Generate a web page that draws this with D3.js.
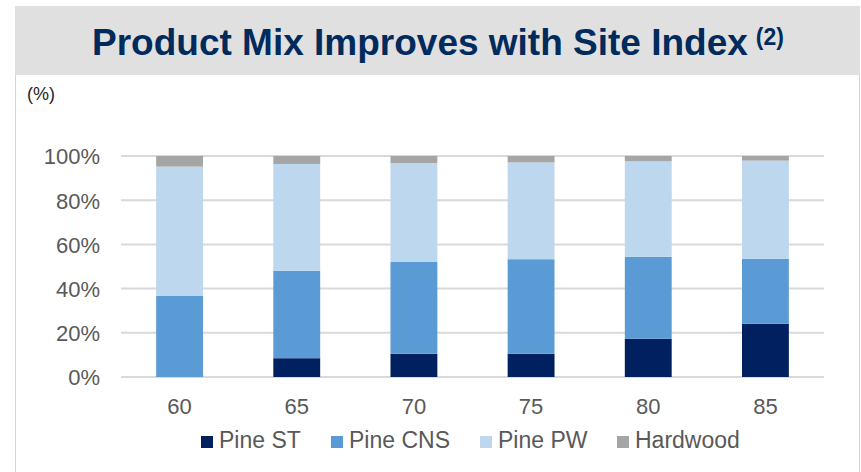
<!DOCTYPE html>
<html>
<head>
<meta charset="utf-8">
<script src="https://cdn.jsdelivr.net/npm/d3@7"></script>
<style>
  body { margin: 0; background: #fff; }
  svg { display: block; font-family: Arial, "Liberation Sans", sans-serif; }
</style>
</head>
<body>
<div id="vis"></div>
<script>
// chart data
const siteIndex = ['60', '65', '70', '75', '80', '85'];
const pineST  = [0,    8.5,  10.5, 10.5, 17.3, 24.1];
const pineCNS = [36.8, 39.5, 41.7, 42.8, 37.1, 29.4];
const pinePW  = [58.4, 48.4, 44.6, 43.8, 43.2, 44.4];
const hardwood = [4.8, 3.6,  3.2,  2.9,  2.4,  2.1];
const seriesNames = ['Pine ST', 'Pine CNS', 'Pine PW', 'Hardwood'];
const yTicks = [0, 20, 40, 60, 80, 100];

const W = 861, H = 472;
const margin = { top: 156, left: 121, right: 37, bottom: 95 };
const width = W - margin.left - margin.right;
const height = H - margin.top - margin.bottom;

let svg = d3.select('#vis')
  .append('svg')
    .attr('width', W)
    .attr('height', H);

// panel + header band
svg.append('rect')
  .attr('x', 15.5).attr('y', 6.5)
  .attr('width', 844).attr('height', 500)
  .attr('fill', '#fff')
  .attr('stroke', '#d4d4d4');

svg.append('rect')
  .attr('x', 15).attr('y', 6)
  .attr('width', 845).attr('height', 69)
  .attr('fill', '#e0e0e0');

let title = svg.append('text')
  .attr('x', 92)
  .attr('y', 55)
  .style('font-size', '37px')
  .style('font-weight', 'bold')
  .style('fill', '#002b5c');
title.append('tspan').text('Product Mix Improves with Site Index');
title.append('tspan')
  .attr('dx', 8)
  .attr('dy', -10)
  .style('font-size', '23px')
  .text('(2)');

svg.append('text')
  .attr('x', 27)
  .attr('y', 100)
  .style('font-size', '18px')
  .style('fill', '#262626')
  .text('(%)');

// stack the series
let rows = siteIndex.map((s, i) => ({
  site: s,
  'Pine ST': pineST[i],
  'Pine CNS': pineCNS[i],
  'Pine PW': pinePW[i],
  'Hardwood': hardwood[i]
}));
let stacked = d3.stack().keys(seriesNames)(rows);

let xScale = d3.scaleBand()
  .domain(siteIndex)
  .range([margin.left, margin.left + width])
  .paddingInner(0.6)
  .paddingOuter(0.3);

let yScale = d3.scaleLinear()
  .domain([0, 100])
  .range([margin.top + height, margin.top]);

const color = d3.scaleOrdinal()
  .domain(seriesNames)
  .range(['#002060', '#5b9bd5', '#bdd7ee', '#a5a5a5']);

// gridlines
svg.append('g')
  .selectAll('line')
  .data(yTicks)
  .enter().append('line')
    .attr('x1', margin.left)
    .attr('x2', margin.left + width)
    .attr('y1', d => yScale(d))
    .attr('y2', d => yScale(d))
    .attr('stroke', '#d9d9d9')
    .attr('stroke-width', 2);

// y axis labels
let yAxis = svg.append('g')
  .attr('transform', `translate(${margin.left - 21},0)`)
  .call(d3.axisLeft(yScale).tickValues(yTicks).tickFormat(d => d + '%').tickSize(0).tickPadding(0));
yAxis.select('.domain').remove();
yAxis.selectAll('text')
  .style('font-size', '22px')
  .style('font-family', 'Arial, "Liberation Sans", sans-serif')
  .style('fill', '#595959')
  .attr('dy', '0.36em');

// x axis labels
let xAxis = svg.append('g')
  .attr('transform', `translate(0,${margin.top + height})`)
  .call(d3.axisBottom(xScale).tickSize(0).tickPadding(0));
xAxis.select('.domain').remove();
xAxis.selectAll('text')
  .attr('dy', 0)
  .attr('y', 37)
  .style('font-size', '22px')
  .style('font-family', 'Arial, "Liberation Sans", sans-serif')
  .style('fill', '#595959');

// bars
svg.append('g')
  .selectAll('g')
  .data(stacked)
  .enter().append('g')
    .attr('fill', d => color(d.key))
  .selectAll('rect')
  .data(d => d)
  .enter().append('rect')
    .attr('x', d => xScale(d.data.site))
    .attr('y', d => yScale(d[1]))
    .attr('width', xScale.bandwidth())
    .attr('height', d => yScale(d[0]) - yScale(d[1]));

// legend
const legendX = [201, 331, 480, 617];
let legend = svg.append('g')
  .selectAll('g')
  .data(seriesNames)
  .enter().append('g')
    .attr('transform', (d, i) => `translate(${legendX[i]},436)`);
legend.append('rect')
  .attr('width', 12)
  .attr('height', 12)
  .attr('fill', d => color(d));
legend.append('text')
  .attr('x', 18)
  .attr('y', 12)
  .style('font-size', '23px')
  .style('fill', '#595959')
  .text(d => d);
</script>
</body>
</html>
